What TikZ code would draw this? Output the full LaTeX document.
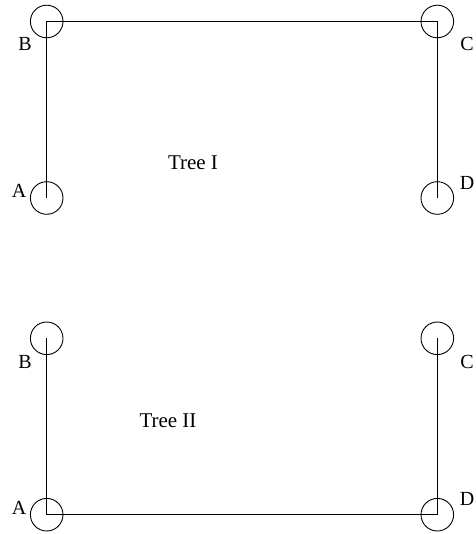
\documentclass[tikz,border=0pt]{standalone}
\usepackage{fontspec}
\setmainfont{Liberation Serif}
\begin{document}
\begin{tikzpicture}[x=1pt,y=-1pt,
  vertex/.style={circle,draw,line width=0.9pt,minimum size=32.6pt,inner sep=0pt},
  edge/.style={line width=1pt},
  tag/.style={anchor=base,inner sep=0pt,font=\fontsize{20}{24}\selectfont},
  title/.style={anchor=base,inner sep=0pt,font=\fontsize{21}{25}\selectfont}]
\useasboundingbox (0,0) rectangle (475,534);

% Tree I
\node[vertex] (A1) at (46.7,198) {};
\node[vertex] (B1) at (46.7,21.5) {};
\node[vertex] (C1) at (437.3,21.5) {};
\node[vertex] (D1) at (437.3,198) {};
\draw[edge] (A1.center) -- (B1.center) -- (C1.center) -- (D1.center);
\node[tag] (lA1) at (19,197.3) {A};
\node[tag] (lB1) at (25,50.7) {B};
\node[tag] (lC1) at (467,50.3) {C};
\node[tag] (lD1) at (467,190) {D};
\node[title] (t1) at (193,169.3) {Tree I};

% Tree II
\node[vertex] (A2) at (46.7,514.7) {};
\node[vertex] (B2) at (46.7,338.3) {};
\node[vertex] (C2) at (437.3,338.3) {};
\node[vertex] (D2) at (437.3,514.7) {};
\draw[edge] (B2.center) -- (A2.center) -- (D2.center) -- (C2.center);
\node[tag] (lA2) at (19,514.3) {A};
\node[tag] (lB2) at (25,368.3) {B};
\node[tag] (lC2) at (467,368.3) {C};
\node[tag] (lD2) at (467,505) {D};
\node[title] (t2) at (168,427.7) {Tree II};
\end{tikzpicture}
\end{document}
